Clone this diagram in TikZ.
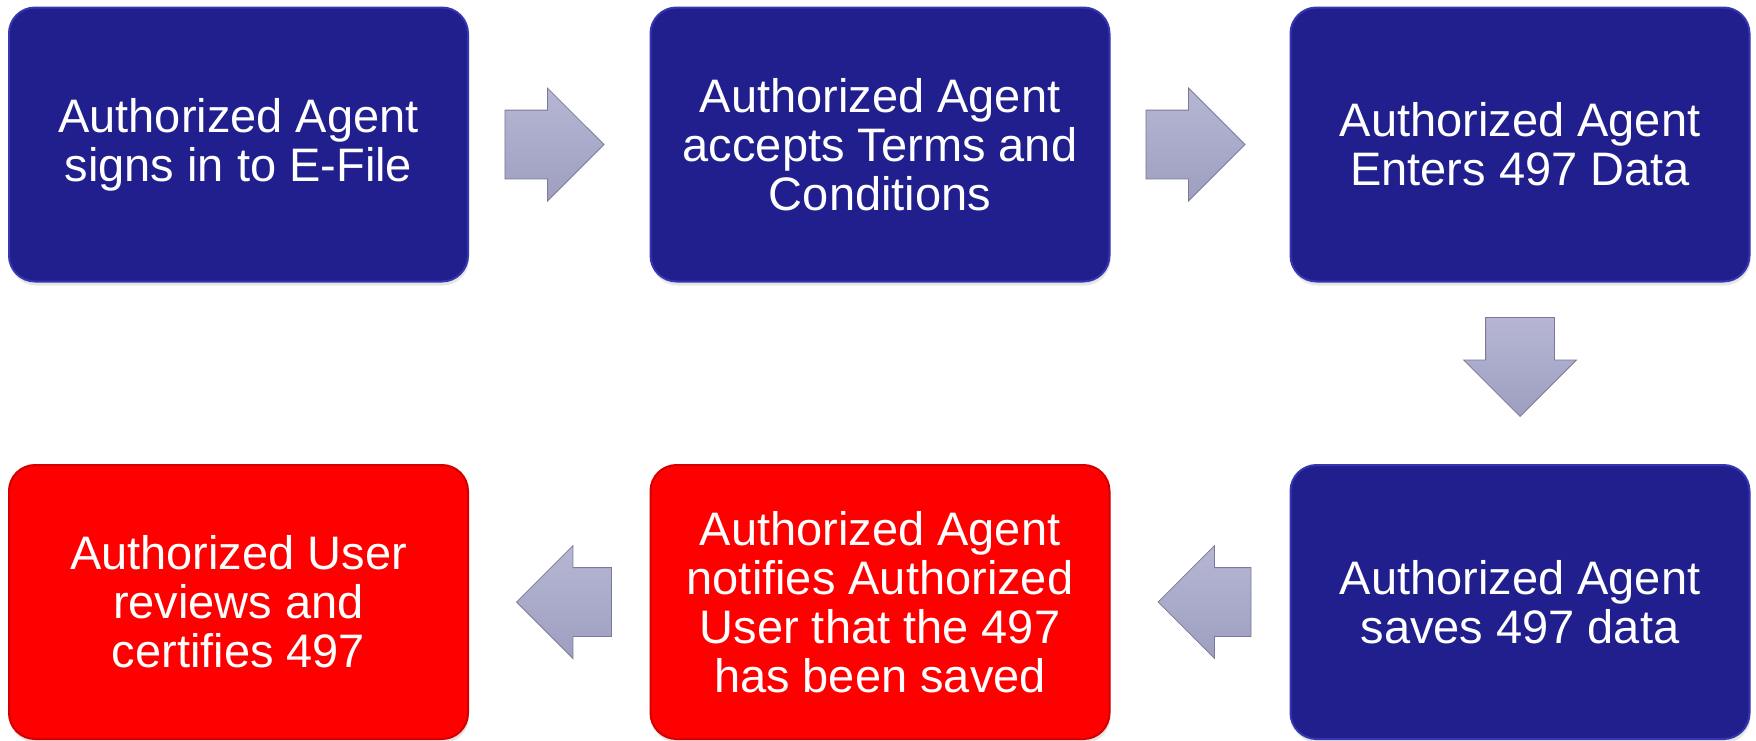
\documentclass[tikz,border=0pt]{standalone}
\usepackage{fontspec}
\setmainfont{Liberation Sans}
\usetikzlibrary{shapes.arrows,shadows,calc}
\definecolor{boxblue}{HTML}{211F8E}
\definecolor{boxblueedge}{HTML}{3636B0}
\definecolor{boxred}{HTML}{FE0000}
\definecolor{boxrededge}{HTML}{D40000}
\definecolor{arrowtop}{HTML}{B6B6D4}
\definecolor{arrowbot}{HTML}{9E9EC0}
\definecolor{arrowedge}{HTML}{7A7A98}
\tikzset{
  stepbox/.style={rectangle, rounded corners=26pt, minimum width=459pt, minimum height=274pt,
    text=white, font=\fontsize{47}{49}\selectfont, align=center, inner sep=0pt, line width=2pt,
    drop shadow={opacity=0.2, shadow xshift=1pt, shadow yshift=-4pt}},
  bluebox/.style={stepbox, fill=boxblue, draw=boxblueedge},
  redbox/.style={stepbox, fill=boxred, draw=boxrededge},
  blockarrow/.style={single arrow, top color=arrowtop, bottom color=arrowbot, draw=arrowedge, line width=0.8pt,
    minimum height=99pt, single arrow head extend=22pt,
    single arrow head indent=0pt, inner xsep=0pt, inner ysep=34pt, anchor=tip}
}
\begin{document}
\begin{tikzpicture}[x=1pt,y=-1pt]
\useasboundingbox (0,0) rectangle (1756,740);
\node[bluebox] (b1) at (238.5,144.5) {Authorized Agent\\signs in to E-File};
\node[bluebox] (b2) at (880,144.5) {Authorized Agent\\accepts Terms and\\Conditions};
\node[bluebox] (b3) at (1520,144.5) {Authorized Agent\\Enters 497 Data};
\node[bluebox] (b4) at (1520,602) {Authorized Agent\\saves 497 data};
\node[redbox] (b5) at (880,602) {Authorized Agent\\notifies Authorized\\User that the 497\\has been saved};
\node[redbox] (b6) at (238.5,602) {Authorized User\\reviews and\\certifies 497};
\node[blockarrow] (a1) at ($(b2.west)+(-45pt,0)$) {};
\node[blockarrow] (a2) at ($(b3.west)+(-44pt,0)$) {};
\node[blockarrow, rotate=270] (a3) at ($(b4.north)+(0,-47)$) {};
\node[blockarrow, rotate=180, minimum height=93pt] (a4) at ($(b5.east)+(47pt,0)$) {};
\node[blockarrow, rotate=180, minimum height=95pt] (a5) at ($(b6.east)+(47pt,0)$) {};
\end{tikzpicture}
\end{document}
